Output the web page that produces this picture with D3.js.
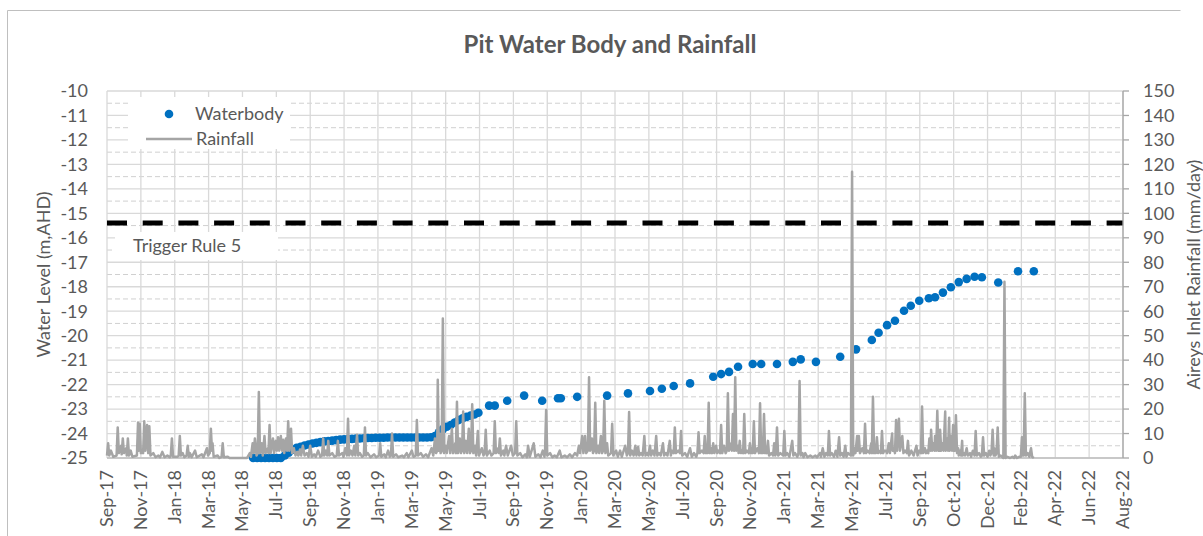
<!DOCTYPE html>
<html><head><meta charset="utf-8">
<script src="https://cdn.jsdelivr.net/npm/d3@7"></script>
<style>body{margin:0;background:#fff}svg{display:block}text{font-family:Lato,"Open Sans",sans-serif}</style>
</head><body><svg id="c" width="1203" height="536"></svg>
<script>
const chartTitle = "Pit Water Body and Rainfall";
const leftAxisTitle = "Water Level (m,AHD)";
const rightAxisTitle = "Aireys Inlet Rainfall (mm/day)";
const seriesNames = ["Waterbody", "Rainfall"];
const triggerLabel = "Trigger Rule 5";
const triggerLevel = -15.4;
const xDomain = ["2017-09-22", "2022-08-27"];
const xTickDates = ["2017-09-22","2017-11-21","2018-01-20","2018-03-21","2018-05-20","2018-07-19","2018-09-17","2018-11-16","2019-01-15","2019-03-16","2019-05-15","2019-07-14","2019-09-12","2019-11-11","2020-01-10","2020-03-10","2020-05-09","2020-07-08","2020-09-06","2020-11-05","2021-01-04","2021-03-05","2021-05-04","2021-07-03","2021-09-01","2021-10-31","2021-12-30","2022-02-28","2022-04-29","2022-06-28","2022-08-27"];
const leftTicks = [-25,-24,-23,-22,-21,-20,-19,-18,-17,-16,-15,-14,-13,-12,-11,-10];
const rightTicks = [0,10,20,30,40,50,60,70,80,90,100,110,120,130,140,150];

const waterDates = ["2018-06-08","2018-06-15","2018-06-22","2018-06-29","2018-07-06","2018-07-13","2018-07-20","2018-07-27","2018-08-03","2018-08-10","2018-08-17","2018-08-24","2018-08-31","2018-09-07","2018-09-14","2018-09-21","2018-09-28","2018-10-05","2018-10-12","2018-10-19","2018-10-26","2018-11-02","2018-11-09","2018-11-16","2018-11-23","2018-11-30","2018-12-07","2018-12-14","2018-12-21","2018-12-28","2019-01-04","2019-01-11","2019-01-18","2019-01-25","2019-02-01","2019-02-08","2019-02-15","2019-02-22","2019-03-01","2019-03-08","2019-03-15","2019-03-22","2019-03-29","2019-04-05","2019-04-12","2019-04-19","2019-04-26","2019-05-03","2019-05-10","2019-05-17","2019-05-24","2019-05-31","2019-06-07","2019-06-14","2019-06-21","2019-06-28","2019-07-05","2019-07-12",
"2019-07-31","2019-08-10","2019-09-01","2019-10-01","2019-11-02","2019-11-30","2019-12-05","2020-01-03","2020-02-25","2020-04-02","2020-05-11","2020-06-01","2020-06-22","2020-07-21","2020-08-31","2020-09-14","2020-09-28","2020-10-14","2020-11-09","2020-11-24","2020-12-22","2021-01-19","2021-02-02","2021-03-01","2021-04-13","2021-05-11","2021-06-08","2021-06-20","2021-07-05","2021-07-19","2021-08-04","2021-08-16","2021-08-31","2021-09-17","2021-09-28","2021-10-12","2021-10-26","2021-11-09","2021-11-23","2021-12-07","2021-12-20","2022-01-18","2022-02-22","2022-03-22"];
const waterLevels = [-25.0,-25.0,-25.0,-25.0,-25.0,-25.0,-25.0,-25.0,-24.9,-24.78,-24.66,-24.58,-24.54,-24.49,-24.45,-24.41,-24.38,-24.35,-24.32,-24.31,-24.29,-24.27,-24.25,-24.24,-24.23,-24.22,-24.21,-24.2,-24.19,-24.18,-24.18,-24.17,-24.17,-24.17,-24.16,-24.16,-24.16,-24.16,-24.16,-24.16,-24.16,-24.16,-24.16,-24.16,-24.16,-24.15,-24.1,-23.95,-23.82,-23.72,-23.65,-23.55,-23.45,-23.38,-23.32,-23.27,-23.22,-23.15,
-22.86,-22.86,-22.66,-22.45,-22.66,-22.56,-22.56,-22.5,-22.45,-22.36,-22.26,-22.17,-22.06,-21.95,-21.68,-21.57,-21.48,-21.27,-21.16,-21.16,-21.16,-21.07,-20.97,-21.07,-20.86,-20.56,-20.18,-19.88,-19.57,-19.39,-18.98,-18.78,-18.57,-18.47,-18.43,-18.24,-18.02,-17.81,-17.68,-17.59,-17.61,-17.83,-17.37,-17.37];

const rainfall = [["2017-09-22",1],["2017-09-24",6],["2017-09-26",1],["2017-09-29",3],["2017-10-03",0.5],["2017-10-09",1],["2017-10-11",12.5],["2017-10-13",2],["2017-10-17",5],["2017-10-18",1.5],["2017-10-20",8],["2017-10-22",2],["2017-10-26",4],["2017-10-27",1],["2017-10-29",8],["2017-10-31",1],["2017-11-03",3],["2017-11-06",0.5],["2017-11-14",1],["2017-11-16",14.5],["2017-11-17",3],["2017-11-19",14],["2017-11-21",2],["2017-11-25",2],["2017-11-27",15],["2017-11-29",3],["2017-12-02",13.5],["2017-12-04",2],["2017-12-06",13],["2017-12-08",1],["2017-12-13",2],["2017-12-17",0.3],["2017-12-22",1],["2017-12-25",0.3],["2017-12-29",2.5],["2018-01-02",0.3],["2018-01-07",1],["2018-01-11",0.3],["2018-01-13",1],["2018-01-15",8],["2018-01-17",0.5],["2018-01-25",0.5],["2018-01-27",1],["2018-01-29",9],["2018-01-31",1],["2018-02-03",2],["2018-02-06",0.3],["2018-02-10",1],["2018-02-12",5],["2018-02-14",0.5],["2018-02-16",2],["2018-02-19",0.3],["2018-02-25",3],["2018-02-28",0.3],["2018-03-09",1.5],["2018-03-12",0.3],["2018-03-18",4],["2018-03-20",1],["2018-03-23",2],["2018-03-25",12],["2018-03-27",3],["2018-03-28",6],["2018-03-30",0.5],["2018-04-06",1],["2018-04-09",0],["2018-04-13",0.5],["2018-04-15",6],["2018-04-17",0.3],["2018-04-24",0.5],["2018-04-27",0],["2018-05-28",0],["2018-06-02",2],["2018-06-04",0.5],["2018-06-07",6],["2018-06-09",2],["2018-06-11",8],["2018-06-14",1],["2018-06-16",2],["2018-06-18",27],["2018-06-20",2],["2018-06-23",6],["2018-06-25",1],["2018-06-28",9],["2018-06-30",2],["2018-07-04",4],["2018-07-05",2],["2018-07-07",13.5],["2018-07-09",2],["2018-07-13",8],["2018-07-15",2],["2018-07-18",7],["2018-07-20",3],["2018-07-22",8.5],["2018-07-24",3],["2018-07-27",9],["2018-07-29",3],["2018-07-31",7.5],["2018-08-02",2],["2018-08-05",8],["2018-08-07",3],["2018-08-09",15],["2018-08-11",3],["2018-08-14",12],["2018-08-16",2],["2018-08-19",4],["2018-08-22",1],["2018-08-25",2.5],["2018-08-27",1],["2018-08-30",3.5],["2018-09-01",1],["2018-09-04",5],["2018-09-07",1],["2018-09-11",2],["2018-09-14",0.5],["2018-09-17",5],["2018-09-20",0.5],["2018-09-24",1.5],["2018-09-27",0.5],["2018-10-01",3],["2018-10-05",0.5],["2018-10-08",1],["2018-10-10",8],["2018-10-12",1],["2018-10-15",3],["2018-10-17",1],["2018-10-19",7],["2018-10-21",1],["2018-10-26",2],["2018-10-30",0.5],["2018-11-03",1],["2018-11-05",7],["2018-11-07",1],["2018-11-13",2],["2018-11-15",0.5],["2018-11-18",4],["2018-11-21",1],["2018-11-23",16],["2018-11-25",1],["2018-11-28",3],["2018-12-01",1],["2018-12-04",5],["2018-12-06",1],["2018-12-09",9.5],["2018-12-11",1],["2018-12-14",2],["2018-12-18",0.5],["2018-12-21",1],["2018-12-23",12.5],["2018-12-25",1],["2018-12-28",2],["2019-01-02",0.3],["2019-01-08",1.5],["2019-01-12",0.3],["2019-01-17",1],["2019-01-19",6],["2019-01-21",0.5],["2019-01-26",1.5],["2019-01-29",0.3],["2019-02-02",3],["2019-02-05",0.5],["2019-02-07",1],["2019-02-09",10],["2019-02-11",0.5],["2019-02-16",1.5],["2019-02-20",0.3],["2019-02-27",1],["2019-03-02",0.3],["2019-03-07",2],["2019-03-10",0.3],["2019-03-16",3],["2019-03-19",0.5],["2019-03-23",1],["2019-03-25",15.5],["2019-03-27",1],["2019-04-01",2],["2019-04-05",0.5],["2019-04-10",1.5],["2019-04-14",0.3],["2019-04-20",4],["2019-04-23",1],["2019-04-26",8],["2019-04-28",2],["2019-04-30",3],["2019-05-01",32],["2019-05-03",3],["2019-05-04",10],["2019-05-06",2],["2019-05-08",3],["2019-05-10",57],["2019-05-12",2],["2019-05-15",5],["2019-05-17",2],["2019-05-21",9],["2019-05-23",2],["2019-05-26",12],["2019-05-28",2],["2019-06-01",6],["2019-06-02",2],["2019-06-04",23],["2019-06-06",2],["2019-06-09",8],["2019-06-11",2],["2019-06-13",3],["2019-06-15",19],["2019-06-17",2],["2019-06-20",7],["2019-06-22",2],["2019-06-25",12],["2019-06-27",2],["2019-06-29",3],["2019-07-01",22],["2019-07-03",2],["2019-07-06",5],["2019-07-08",1],["2019-07-11",11],["2019-07-13",1],["2019-07-18",4],["2019-07-21",1],["2019-07-23",2],["2019-07-25",11.5],["2019-07-27",1],["2019-08-01",3],["2019-08-04",1],["2019-08-08",2],["2019-08-10",15],["2019-08-12",2],["2019-08-16",4],["2019-08-17",2],["2019-08-19",8],["2019-08-21",1],["2019-08-25",3],["2019-08-27",1],["2019-08-30",5],["2019-09-02",1],["2019-09-08",5],["2019-09-11",1],["2019-09-15",2],["2019-09-17",15],["2019-09-19",1],["2019-09-24",2],["2019-09-28",0.3],["2019-10-03",1.5],["2019-10-06",0.3],["2019-10-08",5],["2019-10-11",0.5],["2019-10-18",6],["2019-10-21",0.5],["2019-10-26",1.5],["2019-10-30",0.3],["2019-11-03",3],["2019-11-06",0.5],["2019-11-07",2],["2019-11-09",19.6],["2019-11-11",1],["2019-11-16",2],["2019-11-20",0.3],["2019-11-24",1],["2019-11-28",0.3],["2019-12-03",3],["2019-12-06",0.3],["2019-12-12",1],["2019-12-16",0.3],["2019-12-21",1.5],["2019-12-25",0.3],["2019-12-30",2],["2020-01-03",1],["2020-01-06",5],["2020-01-08",2],["2020-01-12",9],["2020-01-14",2],["2020-01-17",9],["2020-01-19",2],["2020-01-22",3],["2020-01-24",33],["2020-01-26",3],["2020-01-29",8],["2020-01-31",2],["2020-02-02",3],["2020-02-04",22.6],["2020-02-06",2],["2020-02-09",5],["2020-02-11",2],["2020-02-14",9],["2020-02-16",2],["2020-02-18",3],["2020-02-20",23.4],["2020-02-22",2],["2020-02-25",6],["2020-02-27",1],["2020-03-03",2],["2020-03-05",14],["2020-03-07",1],["2020-03-12",3],["2020-03-15",0.5],["2020-03-19",3],["2020-03-22",0.5],["2020-03-28",5],["2020-03-31",1],["2020-04-02",2],["2020-04-04",18.8],["2020-04-06",1],["2020-04-09",3],["2020-04-12",1],["2020-04-15",5],["2020-04-17",1],["2020-04-20",4.5],["2020-04-22",1],["2020-04-25",2],["2020-04-28",1],["2020-05-01",9],["2020-05-03",1],["2020-05-06",2],["2020-05-08",1],["2020-05-11",5],["2020-05-13",1],["2020-05-16",3],["2020-05-19",1],["2020-05-22",9],["2020-05-24",1],["2020-05-27",2],["2020-05-30",1],["2020-06-03",6],["2020-06-05",1],["2020-06-08",2],["2020-06-11",1],["2020-06-15",7],["2020-06-17",1],["2020-06-19",3],["2020-06-22",2],["2020-06-24",12.5],["2020-06-26",2],["2020-06-30",3],["2020-07-03",2],["2020-07-05",11],["2020-07-07",1],["2020-07-12",2],["2020-07-16",0.5],["2020-07-21",4],["2020-07-24",0.5],["2020-07-28",2],["2020-08-01",0.5],["2020-08-03",2],["2020-08-05",10.5],["2020-08-07",2],["2020-08-11",3],["2020-08-14",2],["2020-08-16",9],["2020-08-18",2],["2020-08-20",5],["2020-08-21",2],["2020-08-23",22.6],["2020-08-25",2],["2020-08-27",4],["2020-08-29",2],["2020-08-31",6],["2020-09-02",2],["2020-09-05",5],["2020-09-07",2],["2020-09-09",3],["2020-09-12",2],["2020-09-14",13.5],["2020-09-16",2],["2020-09-19",5],["2020-09-22",2],["2020-09-24",3],["2020-09-26",26.5],["2020-09-28",3],["2020-10-02",6],["2020-10-03",3],["2020-10-05",18],["2020-10-07",3],["2020-10-09",33],["2020-10-11",3],["2020-10-14",5],["2020-10-15",2],["2020-10-17",7],["2020-10-19",2],["2020-10-21",3],["2020-10-23",2],["2020-10-25",18],["2020-10-27",2],["2020-10-30",3],["2020-11-02",2],["2020-11-04",6],["2020-11-06",2],["2020-11-08",4],["2020-11-09",2],["2020-11-11",15],["2020-11-13",2],["2020-11-17",4],["2020-11-20",2],["2020-11-22",22.4],["2020-11-24",2],["2020-11-25",5],["2020-11-27",2],["2020-11-29",18],["2020-12-01",2],["2020-12-03",3],["2020-12-04",2],["2020-12-06",7],["2020-12-08",1],["2020-12-12",2],["2020-12-15",1],["2020-12-17",6],["2020-12-19",1],["2020-12-20",2],["2020-12-22",12.5],["2020-12-24",1],["2020-12-28",2],["2021-01-02",1],["2021-01-04",11],["2021-01-06",1],["2021-01-09",2],["2021-01-13",0.5],["2021-01-18",7],["2021-01-20",1],["2021-01-23",2],["2021-01-27",0.5],["2021-01-29",2],["2021-01-31",31.5],["2021-02-02",1],["2021-02-05",2],["2021-02-07",0.3],["2021-02-10",2],["2021-02-14",0.3],["2021-02-19",1],["2021-02-23",0.3],["2021-02-28",1],["2021-03-03",0.3],["2021-03-08",2],["2021-03-10",0.5],["2021-03-13",4],["2021-03-16",0.5],["2021-03-19",2],["2021-03-22",1],["2021-03-24",11],["2021-03-26",1],["2021-03-29",2],["2021-04-02",0.5],["2021-04-05",3],["2021-04-08",0.5],["2021-04-11",8.5],["2021-04-13",1],["2021-04-16",2],["2021-04-19",0.5],["2021-04-22",5],["2021-04-24",0.5],["2021-04-27",2],["2021-05-02",1],["2021-05-04",117],["2021-05-06",1],["2021-05-08",4],["2021-05-10",2],["2021-05-13",9],["2021-05-14",3],["2021-05-16",9],["2021-05-18",2],["2021-05-22",4],["2021-05-25",2],["2021-05-27",14],["2021-05-29",2],["2021-06-01",3],["2021-06-04",2],["2021-06-07",6],["2021-06-08",2],["2021-06-10",25],["2021-06-12",2],["2021-06-14",4],["2021-06-15",2],["2021-06-17",8.5],["2021-06-19",2],["2021-06-23",3],["2021-06-24",2],["2021-06-26",11],["2021-06-28",2],["2021-06-30",3],["2021-07-03",3],["2021-07-05",2],["2021-07-08",6],["2021-07-10",2],["2021-07-14",10],["2021-07-15",3],["2021-07-17",4],["2021-07-19",2],["2021-07-21",15.5],["2021-07-23",3],["2021-07-26",16],["2021-07-28",3],["2021-08-01",9],["2021-08-03",2],["2021-08-06",3],["2021-08-09",2],["2021-08-11",7],["2021-08-13",1],["2021-08-17",3],["2021-08-21",1],["2021-08-26",5],["2021-08-28",1],["2021-08-31",3],["2021-09-03",2],["2021-09-05",21],["2021-09-07",2],["2021-09-10",4],["2021-09-12",2],["2021-09-14",3],["2021-09-16",2],["2021-09-18",8],["2021-09-20",3],["2021-09-21",11.5],["2021-09-23",3],["2021-09-25",6],["2021-09-27",3],["2021-09-28",9],["2021-09-30",3],["2021-10-02",19.3],["2021-10-04",3],["2021-10-05",7],["2021-10-06",3],["2021-10-07",11.5],["2021-10-09",3],["2021-10-11",6],["2021-10-13",3],["2021-10-16",19],["2021-10-17",3],["2021-10-19",8],["2021-10-21",3],["2021-10-23",16.5],["2021-10-24",3],["2021-10-26",9],["2021-10-28",3],["2021-10-30",13.5],["2021-10-31",3],["2021-11-01",10],["2021-11-02",3],["2021-11-04",17.5],["2021-11-06",2],["2021-11-08",4],["2021-11-09",1],["2021-11-11",3],["2021-11-13",1],["2021-11-15",7],["2021-11-16",1],["2021-11-18",2],["2021-11-20",1],["2021-11-23",4],["2021-11-25",1],["2021-11-29",2],["2021-12-01",0.5],["2021-12-04",3],["2021-12-07",1],["2021-12-09",11],["2021-12-11",1],["2021-12-15",2],["2021-12-18",0.5],["2021-12-20",1],["2021-12-22",8.5],["2021-12-24",1],["2021-12-27",2],["2021-12-30",0.5],["2022-01-02",3],["2022-01-04",1],["2022-01-06",2],["2022-01-08",11.5],["2022-01-10",1],["2022-01-11",4],["2022-01-13",1],["2022-01-15",2],["2022-01-17",12.5],["2022-01-19",0.5],["2022-01-22",1],["2022-01-27",0],["2022-01-29",72],["2022-01-31",0],["2022-02-03",0.5],["2022-02-08",0],["2022-02-12",0.5],["2022-02-15",0],["2022-02-17",1],["2022-02-20",0],["2022-02-24",0.5],["2022-02-27",0.5],["2022-03-01",8.5],["2022-03-03",1],["2022-03-04",1],["2022-03-06",26.5],["2022-03-08",1],["2022-03-11",2],["2022-03-14",0.5],["2022-03-17",4],["2022-03-19",0.5],["2022-03-22",0]];

const parse = d3.timeParse("%Y-%m-%d");
const svg = d3.select("#c");
const L = 107, R = 1123, T = 91, B = 458;
const x = d3.scaleTime().domain(xDomain.map(parse)).range([L, R]);
const yL = d3.scaleLinear().domain([-25, -10]).range([B, T]);
const yR = d3.scaleLinear().domain([0, 150]).range([B, T]);
const txt = "#595959", grid = "#d9d9d9";

// chart border
svg.append("path").attr("d", "M7.5,536 V10.5 H1180.5").attr("fill","none").attr("stroke","#bfbfbf");

// title
svg.append("text").attr("x", 610).attr("y", 53).attr("text-anchor","middle")
  .attr("font-size", 24).attr("font-weight","bold").attr("fill", txt).text(chartTitle);

const g = svg.append("g");
const halves = leftTicks.slice(0,-1).map(v => v + 0.5);
g.selectAll("line.hm").data(halves).join("line")
  .attr("x1", L).attr("x2", R).attr("y1", d => yL(d)).attr("y2", d => yL(d))
  .attr("stroke", "#d0d0d0").attr("stroke-width", 1).attr("stroke-dasharray", "5,3");
g.selectAll("line.h").data(leftTicks).join("line")
  .attr("x1", L).attr("x2", R).attr("y1", d => yL(d)).attr("y2", d => yL(d))
  .attr("stroke", grid).attr("stroke-width", 1.3);
g.selectAll("line.v").data(xTickDates.map(parse)).join("line")
  .attr("x1", d => x(d)).attr("x2", d => x(d)).attr("y1", T).attr("y2", B)
  .attr("stroke", grid).attr("stroke-width", 1.3);

g.append("line").attr("x1", L).attr("x2", R).attr("y1", yL(triggerLevel)).attr("y2", yL(triggerLevel))
  .attr("stroke", "#000").attr("stroke-width", 5).attr("stroke-dasharray", "20,15.7");

g.append("line").attr("x1", L).attr("x2", R).attr("y1", B).attr("y2", B).attr("stroke", "#bfbfbf").attr("stroke-width", 1.3);
g.append("line").attr("x1", R).attr("x2", R).attr("y1", T).attr("y2", B).attr("stroke", "#a6a6a6").attr("stroke-width", 1.3);
g.selectAll("line.rt").data(rightTicks).join("line")
  .attr("x1", R).attr("x2", R + 6).attr("y1", d => yR(d)).attr("y2", d => yR(d))
  .attr("stroke", "#a6a6a6").attr("stroke-width", 1.3);

const water = waterDates.map((d, i) => ({ date: parse(d), v: waterLevels[i] }));
g.selectAll("circle.w").data(water).join("circle")
  .attr("cx", d => x(d.date)).attr("cy", d => yL(d.v)).attr("r", 4.3).attr("fill", "#0070c0");

const rain = rainfall.map(d => ({ date: parse(d[0]), v: d[1] }));
g.append("path").datum(rain)
  .attr("d", d3.line().x(d => x(d.date)).y(d => yR(d.v)))
  .attr("fill", "none").attr("stroke", "#a5a5a5").attr("stroke-width", 2.5).attr("stroke-linejoin","round");

svg.selectAll("text.yl").data(leftTicks).join("text")
  .attr("x", 88).attr("y", d => yL(d)).attr("dy", "0.35em").attr("text-anchor", "end")
  .attr("font-size", 18).attr("fill", txt).text(d => d);
svg.selectAll("text.yr").data(rightTicks).join("text")
  .attr("x", 1143).attr("y", d => yR(d)).attr("dy", "0.35em").attr("text-anchor", "start")
  .attr("font-size", 18).attr("fill", txt).text(d => d);
const fmt = d3.timeFormat("%b-%y");
svg.selectAll("text.xl").data(xTickDates.map(parse)).join("text")
  .attr("transform", d => `translate(${x(d) + 6},470) rotate(-90)`)
  .attr("text-anchor", "end").attr("font-size", 18).attr("fill", txt).text(d => fmt(d));

svg.append("text").attr("transform", "translate(50,274.5) rotate(-90)").attr("text-anchor","middle")
  .attr("font-size", 18).attr("fill", txt).text(leftAxisTitle);
svg.append("text").attr("transform", "translate(1200,274.5) rotate(-90)").attr("text-anchor","middle")
  .attr("font-size", 18).attr("fill", txt).text(rightAxisTitle);

svg.append("rect").attr("x", 115).attr("y", 232).attr("width", 163).attr("height", 28).attr("fill", "#fff");
svg.append("text").attr("x", 133).attr("y", 252).attr("font-size", 18).attr("fill", txt).text(triggerLabel);

svg.append("rect").attr("x", 128).attr("y", 97).attr("width", 162).attr("height", 52).attr("fill", "#fff");
svg.append("circle").attr("cx", 169).attr("cy", 114).attr("r", 4.3).attr("fill", "#0070c0");
svg.append("line").attr("x1", 146).attr("x2", 192).attr("y1", 139).attr("y2", 139).attr("stroke", "#a5a5a5").attr("stroke-width", 2.5);
svg.append("text").attr("x", 195).attr("y", 114).attr("dy","0.35em").attr("font-size", 18).attr("fill", txt).text(seriesNames[0]);
svg.append("text").attr("x", 196).attr("y", 139).attr("dy","0.35em").attr("font-size", 18).attr("fill", txt).text(seriesNames[1]);
</script></body></html>
